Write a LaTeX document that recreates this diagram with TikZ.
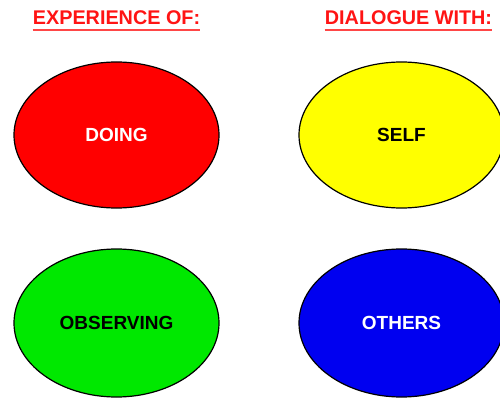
\documentclass[tikz,border=0pt]{standalone}
\usepackage{fontspec}
\setmainfont{Liberation Sans}
\usetikzlibrary{shapes.geometric}

\definecolor{hdred}{RGB}{255,20,20}
\definecolor{ulred}{RGB}{255,70,70}
\definecolor{elred}{RGB}{255,0,0}
\definecolor{elyellow}{RGB}{255,255,0}
\definecolor{elgreen}{RGB}{0,232,0}
\definecolor{elblue}{RGB}{0,0,240}

\tikzset{
	blob/.style = {draw, ellipse, line width = 1.2pt, inner sep = 0pt, minimum width = 205pt, minimum height = 146pt, font = {\fontsize{19pt}{22}\selectfont\bfseries}},
	heading/.style = {hdred, anchor = base, inner sep = 0pt, font = {\fontsize{19.8pt}{24}\selectfont\bfseries}}
}

\begin{document}
\begin{tikzpicture}[x = 1pt, y = -1pt]
\useasboundingbox (0,0) rectangle (500,398);

\node[heading] (EXP) at (116.5, 25) {EXPERIENCE OF:};
\node[heading] (DIA) at (408.5, 25) {DIALOGUE WITH:};
\draw[ulred, line width = 2.6pt] ([yshift = -5pt]EXP.base west) -- ([yshift = -5pt]EXP.base east);
\draw[ulred, line width = 2.6pt] ([yshift = -5pt]DIA.base west) -- ([yshift = -5pt]DIA.base east);

\node[blob, fill = elred, text = white] (DOING) at (116.5, 135) {DOING};
\node[blob, fill = elyellow, text = black] (SELF) at (401.5, 135) {SELF};
\node[blob, fill = elgreen, text = black, minimum height = 148pt] (OBS) at (116.5, 323) {OBSERVING};
\node[blob, fill = elblue, text = white, minimum height = 148pt] (OTH) at (401.5, 323) {OTHERS};
\end{tikzpicture}
\end{document}
